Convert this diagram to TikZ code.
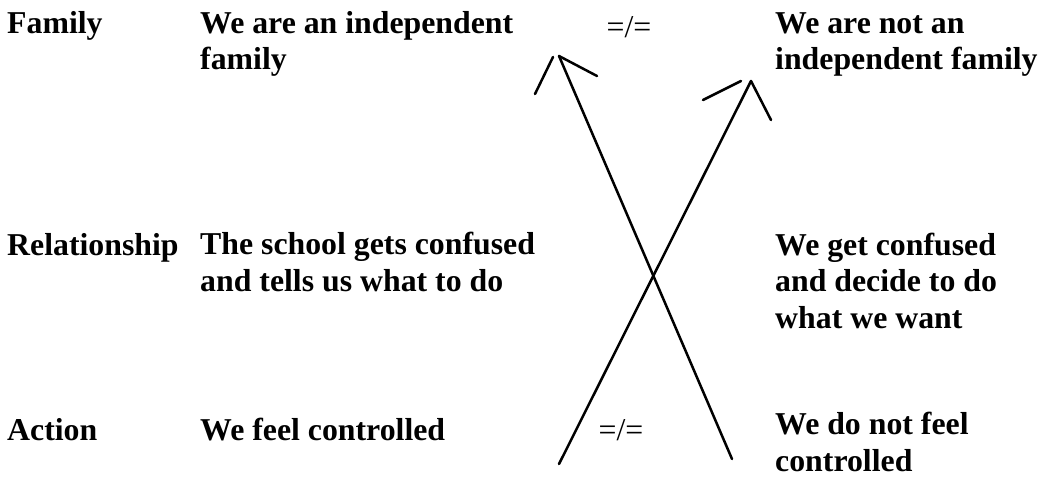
\documentclass[tikz,border=0pt]{standalone}
\usepackage{fontspec}
\setmainfont{Liberation Serif}
\usetikzlibrary{positioning}

\begin{document}
\begin{tikzpicture}[
    x=1pt, y=-1pt,
    rowhead/.style = {anchor=base west, inner sep=0pt, font=\fontsize{31.8}{36.2}\selectfont\bfseries},
    entry/.style   = {anchor=base west, inner sep=0pt, align=left, font=\fontsize{31.8}{36.2}\selectfont\bfseries},
    neq/.style     = {anchor=center, inner sep=0pt, font=\fontsize{31.8}{36.2}\selectfont},
    stroke/.style  = {line width=2.5pt, line cap=round},
]
\useasboundingbox (0,0) rectangle (1040,476);

% row headings
\node[rowhead] (family) at (7, 34)  {Family};
\node[rowhead] (relat)  at (7, 255) {Relationship};
\node[rowhead] (action) at (7, 440) {Action};

% left column (base = last line)
\node[entry] (indep)   at (200, 70)  {We are an independent\\family};
\node[entry] (school)  at (200, 291) {The school gets confused\\and tells us what to do};
\node[entry] (control) at (200, 440) {We feel controlled};

% right column
\node[entry] (notindep)   at (775, 70)  {We are not an\\independent family};
\node[entry] (weconf)     at (775, 328) {We get confused\\and decide to do\\what we want};
\node[entry] (notcontrol) at (775, 471) {We do not feel\\controlled};

% not-equal marks
\node[neq] (neqtop) at (629, 27)  {=/=};
\node[neq] (neqbot) at (621, 430) {=/=};

% arrow ends
\coordinate (tailA) at (732, 459);
\coordinate (tipA)  at (559, 56);
\coordinate (tailB) at (559, 464);
\coordinate (tipB)  at (751, 81);

% crossing shafts
\draw[stroke] (tailA) -- (tipA);
\draw[stroke] (tailB) -- (tipB);

% arrowheads
\draw[stroke] (tipA) -- (597, 76);
\draw[stroke] (553, 57) -- (535, 94);
\draw[stroke] (tipB) -- (771, 120);
\draw[stroke] (741, 81) -- (703, 100);

\end{tikzpicture}
\end{document}
